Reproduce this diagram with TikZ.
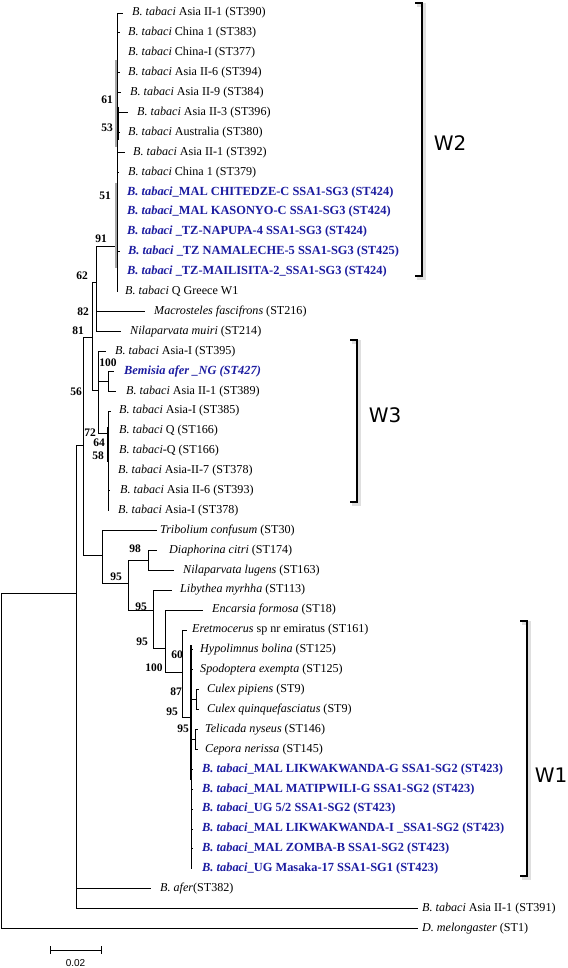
\documentclass[tikz,border=0pt]{standalone}
\usepackage{fontspec}
\setmainfont{Liberation Serif}
\newfontfamily\wsans{DejaVu Sans}
\newfontfamily\asans{Liberation Sans}
\definecolor{tblue}{RGB}{28,28,160}
\begin{document}
\begin{tikzpicture}[x=1pt,y=-1pt,
  leaf/.style={anchor=west,inner sep=0pt,font=\fontsize{12.1}{12}\selectfont},
  bleaf/.style={anchor=west,inner sep=0pt,text=tblue,font=\fontsize{12.4}{12}\selectfont\bfseries},
  boot/.style={inner sep=0pt,font=\fontsize{11.5}{11.5}\selectfont\bfseries},
  br/.style={line width=0.8pt},
  bold br/.style={line width=2.2pt},
  grey br/.style={line width=2.2pt,gray!70},
  brk/.style={line width=2.6pt},
  brkshadow/.style={line width=3.5pt,gray!25},
  wlab/.style={font=\wsans\fontsize{20}{20}\selectfont,inner sep=0pt}
]
\useasboundingbox (0,0) rectangle (567,968);

% ---------- leaf labels ----------
\node[leaf] (l1) at (132,13) {\textit{B. tabaci} Asia II-1 (ST390)};
\node[leaf] (l2) at (128,32.9) {\textit{B. tabaci} China 1 (ST383)};
\node[leaf] (l3) at (128,52.8) {\textit{B. tabaci} China-I (ST377)};
\node[leaf] (l4) at (128,72.7) {\textit{B. tabaci} Asia II-6 (ST394)};
\node[leaf] (l5) at (130,92.6) {\textit{B. tabaci} Asia II-9 (ST384)};
\node[leaf] (l6) at (137,112.5) {\textit{B. tabaci} Asia II-3 (ST396)};
\node[leaf] (l7) at (128,132.4) {\textit{B. tabaci} Australia (ST380)};
\node[leaf] (l8) at (133,152.3) {\textit{B. tabaci} Asia II-1 (ST392)};
\node[leaf] (l9) at (128,172.2) {\textit{B. tabaci} China 1 (ST379)};
\node[bleaf] (l10) at (127,192.1) {\textit{B. tabaci}\_MAL CHITEDZE-C SSA1-SG3 (ST424)};
\node[bleaf] (l11) at (127,212) {\textit{B. tabaci}\_MAL KASONYO-C SSA1-SG3 (ST424)};
\node[bleaf] (l12) at (127,231.9) {\textit{B. tabaci} \_TZ-NAPUPA-4 SSA1-SG3 (ST424)};
\node[bleaf] (l13) at (128,251.8) {\textit{B. tabaci} \_TZ NAMALECHE-5 SSA1-SG3 (ST425)};
\node[bleaf] (l14) at (127,271.7) {\textit{B. tabaci} \_TZ-MAILISITA-2\_SSA1-SG3 (ST424)};
\node[leaf] (l15) at (125,291.6) {\textit{B. tabaci} Q Greece W1};
\node[leaf] (l16) at (154,311.5) {\textit{Macrosteles fascifrons} (ST216)};
\node[leaf] (l17) at (130,331.4) {\textit{Nilaparvata muiri} (ST214)};
\node[leaf] (l18) at (115,351.3) {\textit{B. tabaci} Asia-I (ST395)};
\node[bleaf] (l19) at (124,371.2) {\textit{Bemisia afer \_NG (ST427)}};
\node[leaf] (l20) at (126,391.1) {\textit{B. tabaci} Asia II-1 (ST389)};
\node[leaf] (l21) at (119,411) {\textit{B. tabaci} Asia-I (ST385)};
\node[leaf] (l22) at (119,430.9) {\textit{B. tabaci} Q (ST166)};
\node[leaf] (l23) at (119,450.8) {\textit{B. tabaci}-Q (ST166)};
\node[leaf] (l24) at (118,470.7) {\textit{B. tabaci} Asia-II-7 (ST378)};
\node[leaf] (l25) at (120,490.6) {\textit{B. tabaci} Asia II-6 (ST393)};
\node[leaf] (l26) at (118,510.5) {\textit{B. tabaci} Asia-I (ST378)};
\node[leaf] (l27) at (160,530.4) {\textit{Tribolium confusum} (ST30)};
\node[leaf] (l28) at (169,550.3) {\textit{Diaphorina citri} (ST174)};
\node[leaf] (l29) at (183,570.2) {\textit{Nilaparvata lugens} (ST163)};
\node[leaf] (l30) at (180,590.1) {\textit{Libythea myrhha} (ST113)};
\node[leaf] (l31) at (212,610) {\textit{Encarsia formosa} (ST18)};
\node[leaf] (l32) at (192,629.9) {\textit{Eretmocerus} sp nr emiratus (ST161)};
\node[leaf] (l33) at (200,649.8) {\textit{Hypolimnus bolina} (ST125)};
\node[leaf] (l34) at (200,669.7) {\textit{Spodoptera exempta} (ST125)};
\node[leaf] (l35) at (207,689.6) {\textit{Culex pipiens} (ST9)};
\node[leaf] (l36) at (207,709.5) {\textit{Culex quinquefasciatus} (ST9)};
\node[leaf] (l37) at (205,729.4) {\textit{Telicada nyseus} (ST146)};
\node[leaf] (l38) at (205,749.3) {\textit{Cepora nerissa} (ST145)};
\node[bleaf] (l39) at (202,769.2) {\textit{B. tabaci}\_MAL LIKWAKWANDA-G SSA1-SG2 (ST423)};
\node[bleaf] (l40) at (202,789.1) {\textit{B. tabaci}\_MAL MATIPWILI-G SSA1-SG2 (ST423)};
\node[bleaf] (l41) at (202,809) {\textit{B. tabaci}\_UG 5/2 SSA1-SG2 (ST423)};
\node[bleaf] (l42) at (202,828.9) {\textit{B. tabaci}\_MAL LIKWAKWANDA-I \_SSA1-SG2 (ST423)};
\node[bleaf] (l43) at (202,848.8) {\textit{B. tabaci}\_MAL ZOMBA-B SSA1-SG2 (ST423)};
\node[bleaf] (l44) at (202,868.7) {\textit{B. tabaci}\_UG Masaka-17 SSA1-SG1 (ST423)};
\node[leaf] (l45) at (160,888.6) {\textit{B. afer}(ST382)};
\node[leaf] (l46) at (422,908.5) {\textit{B. tabaci} Asia II-1 (ST391)};
\node[leaf] (l47) at (422,928.4) {\textit{D. melongaster} (ST1)};

% ---------- branch tips ----------
\coordinate (t1) at (123,13);
\coordinate (t2) at (120,32.9);
\coordinate (t3) at (117,52.8);
\coordinate (t4) at (120,72.7);
\coordinate (t5) at (121,92.6);
\coordinate (t6) at (128,112.5);
\coordinate (t7) at (120,132.4);
\coordinate (t8) at (125,152.3);
\coordinate (t9) at (119,172.2);
\coordinate (t10) at (117,192.1);
\coordinate (t11) at (117,212);
\coordinate (t12) at (117,231.9);
\coordinate (t13) at (120,251.8);
\coordinate (t14) at (117,271.7);
\coordinate (t15) at (117,291.6);
\coordinate (t16) at (145,311.5);
\coordinate (t17) at (121,331.4);
\coordinate (t18) at (106,351.3);
\coordinate (t19) at (114,371.2);
\coordinate (t20) at (116,391.1);
\coordinate (t21) at (111,411);
\coordinate (t22) at (108,430.9);
\coordinate (t23) at (108,450.8);
\coordinate (t24) at (108,470.7);
\coordinate (t25) at (110,490.6);
\coordinate (t26) at (108,510.5);
\coordinate (t27) at (157,530.4);
\coordinate (t28) at (157,550.3);
\coordinate (t29) at (174,570.2);
\coordinate (t30) at (172,590.1);
\coordinate (t31) at (203,610);
\coordinate (t32) at (187,629.9);
\coordinate (t33) at (193,649.8);
\coordinate (t34) at (193,669.7);
\coordinate (t35) at (199,689.6);
\coordinate (t36) at (199,709.5);
\coordinate (t37) at (198,729.4);
\coordinate (t38) at (198,749.3);
\coordinate (t39) at (193,769.2);
\coordinate (t40) at (193,789.1);
\coordinate (t41) at (193,809);
\coordinate (t42) at (193,828.9);
\coordinate (t43) at (193,848.8);
\coordinate (t44) at (191,868.7);
\coordinate (t45) at (151,888.6);
\coordinate (t46) at (418,908.5);
\coordinate (t47) at (418,928.4);

% ---------- internal nodes ----------
\coordinate (root) at (1,928.4);
\coordinate (n76) at (76,593);
\coordinate (n81) at (83,445);
\coordinate (n62) at (92,337);
\coordinate (n82) at (96,282);
\coordinate (n91) at (117,246);
\coordinate (n98) at (98,390);
\coordinate (n100) at (108,381);
\coordinate (n72) at (108,433);
\coordinate (n102) at (102,555);
\coordinate (n128) at (128,583);
\coordinate (n148) at (148,560);
\coordinate (n153) at (153,610);
\coordinate (n165) at (165,648);
\coordinate (n182) at (182,672);
\coordinate (n191) at (191,717);
\coordinate (n196) at (196,699.5);
\coordinate (n195) at (195,739.3);

% ---------- branches ----------
\begin{scope}[br]
\draw (root) |- (n76);
\draw (root) -- (t47);
\draw (n76) |- (n81);
\draw (n76) |- (t45);
\draw (n76) |- (t46);
\draw (n81) |- (n62);
\draw (n81) |- (n102);
\draw (n62) |- (n82);
\draw (n62) |- (n98);
\draw (n82) |- (n91);
\draw (n82) |- (t16);
\draw (n82) |- (t17);
\foreach \i in {1,...,15} {\draw (n91) |- (t\i);}
\draw (n98) |- (t18);
\draw (n98) |- (n100);
\draw (n98) |- (n72);
\draw (n100) |- (t19);
\draw (n100) |- (t20);
\foreach \i in {21,...,26} {\draw (n72) |- (t\i);}
\draw (n102) |- (t27);
\draw (n102) |- (n128);
\draw (n128) |- (n148);
\draw (n128) |- (n153);
\draw (n148) |- (t28);
\draw (n148) |- (t29);
\draw (n153) |- (t30);
\draw (n153) |- (n165);
\draw (n165) |- (t31);
\draw (n165) |- (n182);
\draw (n182) |- (t32);
\draw (n182) |- (n191);
\draw (n191) |- (t33);
\draw (n191) |- (t34);
\draw (n191) |- (n196);
\draw (n191) |- (n195);
\foreach \i in {39,...,44} {\draw (n191) |- (t\i);}
\draw (n196) |- (t35);
\draw (n196) |- (t36);
\draw (n195) |- (t37);
\draw (n195) |- (t38);
\end{scope}

% thick (very short) internal segments
\draw[grey br] (116,60) -- (116,147);
\draw[bold br] (118,107) -- (118,140);
\draw[grey br] (116,183) -- (116,268);
\draw[bold br] (108,427) -- (108,462);
\draw[bold br] (191,645) -- (191,780);

% ---------- bootstrap values ----------
\node[boot] (b61) at (107,100) {61};
\node[boot] (b53) at (107,128) {53};
\node[boot] (b51) at (105,196) {51};
\node[boot] (b91) at (101,239) {91};
\node[boot] (b62) at (82,276) {62};
\node[boot] (b82) at (83,312) {82};
\node[boot] (b81) at (78,331) {81};
\node[boot] (b100a) at (108,363) {100};
\node[boot] (b56) at (76,392) {56};
\node[boot] (b72) at (90,433) {72};
\node[boot] (b64) at (99,443) {64};
\node[boot] (b58) at (98,456) {58};
\node[boot] (b98) at (135,549) {98};
\node[boot] (b95a) at (116,577) {95};
\node[boot] (b95b) at (141,607) {95};
\node[boot] (b95c) at (142,642) {95};
\node[boot] (b100b) at (154,668) {100};
\node[boot] (b60) at (177,655) {60};
\node[boot] (b87) at (176,692) {87};
\node[boot] (b95d) at (172,712) {95};
\node[boot] (b95e) at (183,729) {95};

% ---------- group brackets ----------
\draw[brkshadow] (417,5) -- (424,5) -- (424,278) -- (417,278);
\draw[brk] (415,3) -- (422,3) -- (422,276) -- (415,276);
\draw[brkshadow] (352,342) -- (359,342) -- (359,504) -- (352,504);
\draw[brk] (350,340) -- (357,340) -- (357,502) -- (350,502);
\draw[brkshadow] (522,623) -- (529,623) -- (529,878) -- (522,878);
\draw[brk] (520,621) -- (527,621) -- (527,876) -- (520,876);
\node[wlab] (W2) at (450,143) {W2};
\node[wlab] (W3) at (385,415) {W3};
\node[wlab] (W1) at (551,775) {W1};

% ---------- scale bar ----------
\coordinate (sbl) at (50,950);
\coordinate (sbr) at (101,950);
\draw[br] (sbl) -- (sbr);
\draw[br] ([yshift=4pt]sbl) -- ([yshift=-4pt]sbl);
\draw[br] ([yshift=4pt]sbr) -- ([yshift=-4pt]sbr);
\node[inner sep=0pt,font=\asans\fontsize{10}{10}\selectfont] (sblab) at (75.5,963) {0.02};
\end{tikzpicture}
\end{document}
